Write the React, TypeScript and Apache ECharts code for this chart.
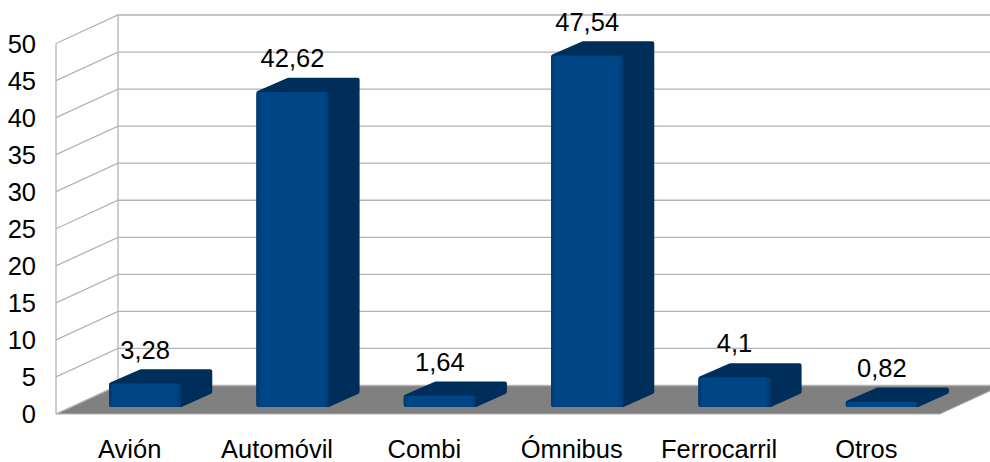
import React, { useEffect, useRef } from "react";
import * as echarts from "echarts";

const categories = ["Avión", "Automóvil", "Combi", "Ómnibus", "Ferrocarril", "Otros"];
const values = [3.28, 42.62, 1.64, 47.54, 4.1, 0.82];
const yTicks = [0, 5, 10, 15, 20, 25, 30, 35, 40, 45, 50];

const FONT = "'Liberation Sans', Arial, sans-serif";
const FONT_SIZE = 25.5;
const DX = 62;
const DY = -28.5;
const GRID_COLOR = "#b3b3b3";
const FRONT = "#004586";
const FRONT_EDGE = "#003a70";
const SIDE = "#002e5a";

function renderFloor(params: any) {
  const c = params.coordinateSys ?? params.coordSys;
  const b = c.y + c.height;
  const l = c.x;
  const r = c.x + c.width;
  return {
    type: "polygon",
    shape: { points: [[l, b], [l + DX, b + DY], [r + DX, b + DY], [r, b]] },
    style: { fill: "#808080", stroke: GRID_COLOR, lineWidth: 1 },
  };
}

function renderWall(params: any, api: any) {
  const c = params.coordinateSys ?? params.coordSys;
  const v = api.value(1);
  const y = api.coord([0, v])[1];
  const l = c.x;
  const r = c.x + c.width;
  const stroke = { stroke: GRID_COLOR, lineWidth: 1.3, fill: "none" };
  const children: any[] = [
    { type: "polyline", shape: { points: [[l, y], [l + DX, y + DY], [r + DX, y + DY]] }, style: stroke },
  ];
  if (v === yTicks[yTicks.length - 1]) {
    const bottom = c.y + c.height;
    children.push({ type: "line", shape: { x1: l, y1: y, x2: l, y2: bottom }, style: stroke });
    children.push({ type: "line", shape: { x1: l + DX, y1: y + DY, x2: l + DX, y2: bottom + DY }, style: stroke });
  }
  return { type: "group", children };
}

function renderBar(_params: any, api: any) {
  const idx = api.value(0);
  const val = api.value(1);
  const top = api.coord([idx, val]);
  const base = api.coord([idx, 0]);
  const band = api.size([1, 0])[0];
  const w = band * 0.49;
  const ox = DX / 4;
  const oy = DY / 4;
  const x0 = top[0] - w / 2 + ox;
  const x1 = x0 + w;
  const yB = base[1] + oy;
  const yT = Math.min(top[1] + oy + 1, yB - 3);
  const ddx = DX / 2;
  const ddy = DY / 2;
  const i = 2;
  const sil = [
    [x0 + i, yB - i],
    [x0 + i, yT + i * 0.4],
    [x0 + ddx + i * 0.4, yT + ddy + i],
    [x1 + ddx - i, yT + ddy + i],
    [x1 + ddx - i, yB + ddy - i * 0.4],
    [x1, yB - i],
  ];
  return {
    type: "group",
    children: [
      {
        type: "polygon",
        shape: { points: sil },
        style: { fill: SIDE, stroke: SIDE, lineWidth: i * 2, lineJoin: "round" },
      },
      {
        type: "rect",
        shape: { x: x0, y: yT, width: w, height: yB - yT, r: 3 },
        style: {
          fill: new echarts.graphic.LinearGradient(0, 0, 1, 0, [
            { offset: 0, color: FRONT_EDGE },
            { offset: 0.06, color: FRONT },
            { offset: 0.93, color: FRONT },
            { offset: 1, color: FRONT_EDGE },
          ]),
        },
      },
      {
        type: "text",
        style: {
          text: String(val).replace(".", ","),
          x: x0 + w / 2,
          y: yT - 34,
          align: "center",
          verticalAlign: "middle",
          fill: "#000000",
          fontFamily: FONT,
          fontSize: FONT_SIZE,
        },
      },
    ],
  };
}

export default function App() {
  const ref = useRef<HTMLDivElement>(null);
  useEffect(() => {
    const chart = echarts.init(ref.current!, undefined, { renderer: "svg" });
    chart.setOption({
      animation: false,
      backgroundColor: "#ffffff",
      grid: { left: 56, right: 50, top: 43.5, bottom: 47, containLabel: false },
      xAxis: {
        type: "category",
        data: categories,
        axisLine: { show: false },
        axisTick: { show: false },
        axisLabel: { color: "#000000", fontFamily: FONT, fontSize: FONT_SIZE, margin: 22, interval: 0 },
      },
      yAxis: {
        type: "value",
        min: 0,
        max: 50,
        interval: 5,
        splitLine: { show: false },
        axisLine: { show: false },
        axisTick: { show: false },
        axisLabel: { color: "#000000", fontFamily: FONT, fontSize: FONT_SIZE, margin: 20 },
      },
      series: [
        {
          type: "custom",
          silent: true,
          data: [[0, 0]],
          renderItem: renderFloor,
          z: 1,
        },
        {
          type: "custom",
          silent: true,
          data: yTicks.map((t) => [0, t]),
          encode: { x: 0, y: 1 },
          renderItem: renderWall,
          z: 2,
        },
        {
          type: "custom",
          silent: true,
          data: values.map((v, i) => [i, v]),
          encode: { x: 0, y: 1 },
          renderItem: renderBar,
          z: 3,
        },
      ],
    });
    return () => chart.dispose();
  }, []);
  return (
    <div
      ref={ref}
      style={{ position: "fixed", left: 0, top: 0, width: 990, height: 462 }}
    />
  );
}
